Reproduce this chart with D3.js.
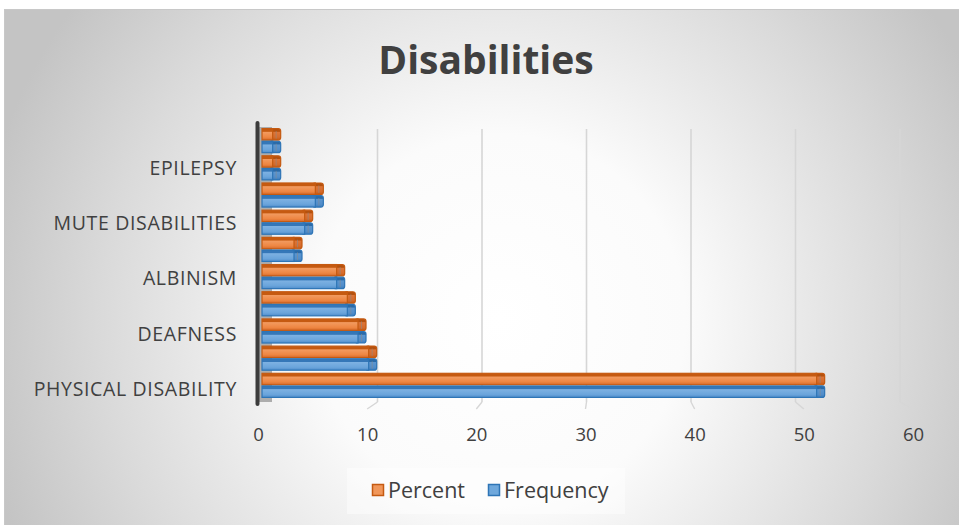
<!DOCTYPE html>
<html>
<head>
<meta charset="utf-8">
<script src="https://cdn.jsdelivr.net/npm/d3@7"></script>
<style>
  html, body { margin: 0; padding: 0; background: #ffffff; }
  svg { display: block; }
  text { font-family: "Open Sans", "Noto Sans", sans-serif; fill: #404040; }
</style>
</head>
<body>
<svg id="chart" width="959" height="525"></svg>
<script>
// Disability categories, bottom to top (every second name is shown on the axis)
const categories = [
  "PHYSICAL DISABILITY",
  "VISUAL IMPAIRMENT",
  "DEAFNESS",
  "INTELLECTUAL DISABILITY",
  "ALBINISM",
  "AUTISM",
  "MUTE DISABILITIES",
  "MULTIPLE DISABILITIES",
  "EPILEPSY",
  "OTHERS"
];
const frequency = [52, 10, 9, 8, 7, 3, 4, 5, 1, 1];
const percent   = [52, 10, 9, 8, 7, 3, 4, 5, 1, 1];
const tickValues = [0, 10, 20, 30, 40, 50, 60];
const seriesNames = ["Percent", "Frequency"];

const svg = d3.select("#chart");
const W = 959, H = 525;

// ---- background: chart area with soft radial shading ----
const defs = svg.append("defs");
const bg = defs.append("radialGradient").attr("id", "bgGrad")
  .attr("gradientUnits", "userSpaceOnUse")
  .attr("cx", 500).attr("cy", 320).attr("r", 530)
  .attr("fx", 500).attr("fy", 320);
bg.append("stop").attr("offset", 0).attr("stop-color", "#ffffff");
bg.append("stop").attr("offset", 0.35).attr("stop-color", "#fbfbfb");
bg.append("stop").attr("offset", 0.75).attr("stop-color", "#dadada");
bg.append("stop").attr("offset", 1).attr("stop-color", "#c4c4c4");

svg.append("rect").attr("x", 4.5).attr("y", 9.5).attr("width", W).attr("height", H)
  .attr("fill", "url(#bgGrad)").attr("stroke", "#c8c8c8").attr("stroke-width", 1);

// bar shading gradients
function barGradient(id, top, light, mid, bottom) {
  const g = defs.append("linearGradient").attr("id", id)
    .attr("x1", 0).attr("y1", 0).attr("x2", 0).attr("y2", 1);
  g.append("stop").attr("offset", 0).attr("stop-color", top);
  g.append("stop").attr("offset", 0.24).attr("stop-color", top);
  g.append("stop").attr("offset", 0.32).attr("stop-color", light);
  g.append("stop").attr("offset", 0.75).attr("stop-color", mid);
  g.append("stop").attr("offset", 1).attr("stop-color", bottom);
}
barGradient("gOrange", "#c55a11", "#f29a5f", "#ee8642", "#d4692a");
barGradient("gBlue", "#3577b8", "#7db1e2", "#6aa4db", "#4f8dcb");
barGradient("gOrangeCap", "#b4510e", "#dd7437", "#d46b2d", "#c55a11");
barGradient("gBlueCap", "#2a6aa8", "#5b95cf", "#528dc9", "#3b7dbd");

const colors = {
  Percent:   { fill: "url(#gOrange)", cap: "url(#gOrangeCap)", edge: "#c55a11", swatch: "#f1975a" },
  Frequency: { fill: "url(#gBlue)",   cap: "url(#gBlueCap)",   edge: "#2e75b6", swatch: "#6fa8dc" }
};

// ---- title ----
svg.append("text").attr("x", 486).attr("y", 74)
  .attr("text-anchor", "middle")
  .attr("font-size", 39).attr("font-weight", 700)
  .text("Disabilities");

// ---- scales ----
// front edge of the floor (axis labels), back wall (gridlines), bar depth (bars)
const xFront = d3.scaleLinear().domain([0, 60]).range([258, 913]);
const xBack  = d3.scaleLinear().domain([0, 60]).range([273, 900]);
const xBar   = d3.scaleLinear().domain([0, 60]).range([262, 902]);

const yBand = d3.scaleBand().domain(categories).range([398, 128])
  .paddingInner(0.07).paddingOuter(0);
const yLabel = d3.scalePoint().domain(categories).range([389, 140.6]);

const plotTop = 127, floorBack = 402, floorFront = 409;

// ---- back-wall gridlines and floor lines ----
const grid = svg.append("g");
tickValues.filter(v => v > 0).forEach(v => {
  grid.append("line")
    .attr("x1", xBack(v)).attr("x2", xBack(v))
    .attr("y1", plotTop + 2).attr("y2", floorBack)
    .attr("stroke", "#d6d6d6").attr("stroke-width", 1.6);
  grid.append("line")
    .attr("x1", xBack(v)).attr("x2", xFront(v))
    .attr("y1", floorBack).attr("y2", floorFront)
    .attr("stroke", "#d6d6d6").attr("stroke-width", 1.4);
});

// side wall (depth strip behind the bars)
svg.append("rect")
  .attr("x", 259).attr("y", plotTop).attr("width", 13).attr("height", floorBack - plotTop)
  .attr("fill", "#adadad");

// ---- bars ----
const barsG = svg.append("g");
const capW = 8;
categories.forEach((c, i) => {
  const y0 = yBand(c);
  const h = yBand.bandwidth() / 2;
  const rows = [
    { name: "Percent", value: percent[i], y: y0 },
    { name: "Frequency", value: frequency[i], y: y0 + h }
  ];
  rows.forEach(r => {
    const col = colors[r.name];
    const xs = xBar(0), xe = xBar(r.value);
    const g = barsG.append("g");
    // right end face
    g.append("rect")
      .attr("x", xe - 3).attr("y", r.y + 0.6)
      .attr("width", capW + 3).attr("height", h - 1.2)
      .attr("rx", 2.5)
      .attr("fill", col.cap).attr("stroke", col.edge).attr("stroke-width", 1.2);
    // front face
    g.append("rect")
      .attr("x", xs).attr("y", r.y + 0.6)
      .attr("width", Math.max(0, xe - xs)).attr("height", h - 1.2)
      .attr("fill", col.fill).attr("stroke", col.edge).attr("stroke-width", 1.2);
    // edge line on the end face
    g.append("line")
      .attr("x1", xe + 3.5).attr("x2", xe + 3.5)
      .attr("y1", r.y + 3).attr("y2", r.y + h - 2)
      .attr("stroke", "#8a8a8a").attr("stroke-opacity", 0.55).attr("stroke-width", 1);
  });
});

// left wall edge
svg.append("line")
  .attr("x1", 257.5).attr("x2", 257.5)
  .attr("y1", 123).attr("y2", 404)
  .attr("stroke", "#3c3c3c").attr("stroke-width", 4)
  .attr("stroke-linecap", "round");

// ---- category labels (every second one) ----
svg.append("g").selectAll("text")
  .data(categories.filter((c, i) => i % 2 === 0))
  .join("text")
  .attr("x", 237).attr("y", d => yLabel(d))
  .attr("dy", "0.35em")
  .attr("text-anchor", "end")
  .attr("font-size", 19.5)
  .attr("letter-spacing", 0.65)
  .text(d => d);

// ---- value axis labels ----
const xAxis = d3.axisBottom(xFront).tickValues(tickValues).tickSize(0).tickPadding(0);
const axisG = svg.append("g").attr("transform", "translate(0,428)").call(xAxis);
axisG.select(".domain").remove();
axisG.selectAll("text")
  .attr("font-size", 18.5)
  .attr("fill", "#404040")
  .style("font-family", "'Open Sans', 'Noto Sans', sans-serif");

// ---- legend ----
svg.append("rect").attr("x", 347).attr("y", 468).attr("width", 278).attr("height", 46)
  .attr("fill", "#ffffff").attr("fill-opacity", 0.45);
const legend = svg.append("g");
const legendItems = [
  { name: seriesNames[0], x: 372, tx: 388 },
  { name: seriesNames[1], x: 488, tx: 504 }
];
legendItems.forEach(d => {
  const col = colors[d.name];
  legend.append("rect").attr("x", d.x + 0.5).attr("y", 484.5).attr("width", 11).attr("height", 11)
    .attr("fill", col.swatch).attr("stroke", col.edge).attr("stroke-width", 1.5);
  legend.append("text").attr("x", d.tx).attr("y", 490).attr("dy", "0.35em")
    .attr("font-size", 21.5).text(d.name);
});
</script>
</body>
</html>
